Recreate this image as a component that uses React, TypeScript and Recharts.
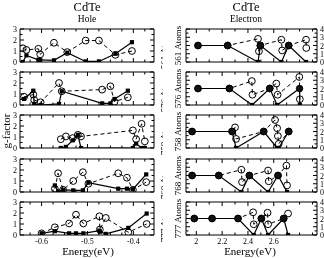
import React from "react";
import { LineChart, Line, XAxis, YAxis } from "recharts";

// ---------------- Hole (left column) ----------------
const holeE561 = [-0.641, -0.633, -0.607, -0.603, -0.573, -0.544, -0.504, -0.475, -0.439, -0.403];
const holeSq561 = [0.0, 0.6, 0.2, 0.2, 0.15, 0.85, 0.05, 0.05, 0.75, 1.8];
const holeCi561 = [1.25, 1.1, 1.2, 0.7, 1.75, 0.9, 1.95, 1.95, 0.65, 1.0];

const holeE576 = [-0.638, -0.618, -0.616, -0.602, -0.562, -0.556, -0.468, -0.45, -0.441, -0.412];
const holeSq576 = [0.55, 1.3, 0.1, 0.0, 0.1, 1.25, 0.15, 0.15, 0.55, 1.3];
const holeCi576 = [0.75, 0.95, 0.45, 0.25, 2.0, 1.25, 1.4, 1.7, 0.3, 0.7];

const holeE758 = [-0.558, -0.547, -0.532, -0.521, -0.514, -0.401, -0.394, -0.382, -0.375];
const holeSq758 = [0.0, 0.1, 0.7, 1.2, 0.0, 0.0, 0.4, 0.0, 0.0];
const holeCi758 = [0.8, 1.05, 0.9, 1.2, 1.05, 1.6, 0.8, 2.2, 0.6];

const holeE768 = [-0.571, -0.564, -0.553, -0.531, -0.51, -0.498, -0.433, -0.414, -0.401, -0.372];
const holeSq768 = [0.6, 0.05, 0.2, 0.15, 0.15, 0.85, 0.3, 0.3, 0.25, 1.6];
const holeCi768 = [0.3, 1.7, 0.2, 1.0, 1.8, 0.75, 1.7, 1.3, 0.2, 0.9];

const holeE777 = [-0.6, -0.571, -0.54, -0.525, -0.509, -0.474, -0.473, -0.46, -0.411, -0.371];
const holeSq777 = [0.15, 0.35, 0.15, 0.15, 0.15, 0.4, 0.3, 0.1, 0.65, 1.95];
const holeCi777 = [0.15, 0.7, 1.05, 1.85, 1.05, 1.7, 0.5, 1.55, 0.25, 1.0];

// ---------------- Electron (right column) ----------------
const elecSolidE561 = [2.013, 2.243, 2.478, 2.496, 2.659, 2.716, 2.85];
const elecSolid561 = [2, 2, 0, 2, 0, 2, 0];
const elecDashE561 = [2.013, 2.243, 2.478, 2.485, 2.496, 2.659, 2.665, 2.716, 2.85, 2.852];
const elecDash561 = [2, 2, 2.8, 1.3, 2, 2.7, 1.4, 2, 2.7, 1.7];

const elecSolidE576 = [2.013, 2.256, 2.432, 2.569, 2.626, 2.8, 2.802];
const elecSolid576 = [2, 2, 0, 2, 0, 2, 0];
const elecDashE576 = [2.013, 2.256, 2.43, 2.435, 2.569, 2.62, 2.63, 2.798, 2.802];
const elecDash576 = [2, 2, 2.9, 1.25, 2, 2.6, 1.25, 3.4, 0.7];

const elecSolidE758 = [1.967, 2.277, 2.308, 2.522, 2.626, 2.638, 2.716];
const elecSolid758 = [2, 2, 0, 2, 0, 0, 2];
const elecDashE758 = [1.967, 2.277, 2.3, 2.308, 2.522, 2.61, 2.626, 2.632, 2.638, 2.716];
const elecDash758 = [2, 2, 2.5, 1.1, 2, 3.4, 2.4, 1.45, 0.5, 2];

const elecSolidE768 = [1.967, 2.174, 2.349, 2.411, 2.556, 2.633, 2.703];
const elecSolid768 = [2, 2, 0, 2, 0, 2, 0];
const elecDashE768 = [1.967, 2.174, 2.349, 2.354, 2.411, 2.556, 2.561, 2.633, 2.698, 2.703];
const elecDash768 = [2, 2, 2.7, 1.2, 2, 2.6, 1.3, 2, 3.2, 0.8];

const elecSolidE777 = [1.984, 2.122, 2.323, 2.445, 2.504, 2.556, 2.677, 2.711];
const elecSolid777 = [2, 2, 2, 0, 2, 0, 2, 0];
const elecDashE777 = [1.984, 2.122, 2.323, 2.44, 2.445, 2.504, 2.552, 2.556, 2.677, 2.711];
const elecDash777 = [2, 2, 2, 2.75, 1.3, 2, 2.7, 1.3, 2, 2.6];

// ---------------- Axes / labels ----------------
const atomLabels = ["561 Atoms", "576 Atoms", "758 Atoms", "768 Atoms", "777 Atoms"];
const holeXDomain = [-0.647, -0.355];
const holeXTicks = [-0.625, -0.6, -0.575, -0.55, -0.525, -0.5, -0.475, -0.45, -0.425, -0.4, -0.375];
const holeXMajor = [-0.6, -0.5, -0.4];
const holeXLabels = ["-0.6", "-0.5", "-0.4"];
const elecXDomain = [1.92, 2.935];
const elecXTicks = [2.0, 2.1, 2.2, 2.3, 2.4, 2.5, 2.6, 2.7, 2.8, 2.9];
const elecXMajor = [2.0, 2.2, 2.4, 2.6];
const elecXLabels = ["2", "2.2", "2.4", "2.6"];
const holeYTicks = [0, 0.5, 1, 1.5, 2, 2.5, 3];
const holeYLabels = ["0", "1", "2", "3"];
const elecYTicks = [0, 0.5, 1, 1.5, 2, 2.5, 3, 3.5, 4];
const elecYLabels = ["0", "1", "2", "3", "4"];

const holeSets = [
  [holeE561, holeSq561, holeCi561],
  [holeE576, holeSq576, holeCi576],
  [holeE758, holeSq758, holeCi758],
  [holeE768, holeSq768, holeCi768],
  [holeE777, holeSq777, holeCi777],
];
const elecSets = [
  [elecSolidE561, elecSolid561, elecDashE561, elecDash561],
  [elecSolidE576, elecSolid576, elecDashE576, elecDash576],
  [elecSolidE758, elecSolid758, elecDashE758, elecDash758],
  [elecSolidE768, elecSolid768, elecDashE768, elecDash768],
  [elecSolidE777, elecSolid777, elecDashE777, elecDash777],
];

const FONT = "'Liberation Serif', 'DejaVu Serif', serif";
const INK = "#000";
const near = (a: number, b: number) => Math.abs(a - b) < 1e-6;
const zip = (xs: number[], ys: number[]) => xs.map((x, i) => ({ x, y: ys[i] }));

// layout of frames (px)
const LEFT_X0 = 20, LEFT_W = 134;
const RIGHT_X0 = 186, RIGHT_W = 131;
const PANEL_BOTTOMS = [62, 105, 148, 192, 235];
const PANEL_H = 33;

const openCircle = (p: any) => (
  <circle key={`c${p.index}`} cx={p.cx} cy={p.cy} r={3.4} fill="none" stroke={INK} strokeWidth={1} />
);
const filledSquare = (p: any) => (
  <rect key={`s${p.index}`} x={p.cx - 2.1} y={p.cy - 2.1} width={4.2} height={4.2} fill={INK} />
);
const elecSolidDot = (p: any) =>
  p.payload && p.payload.y >= 1 ? (
    <circle key={`e${p.index}`} cx={p.cx} cy={p.cy} r={3.2} fill="#111" stroke={INK} strokeWidth={1} />
  ) : (
    filledSquare(p)
  );

function Panel(props: any) {
  const { x0, w, bottom, xDomain, xTicks, xMajor, xLabels, yDomain, yTicks, yLabels, ySide, showX, solid, dashed, solidDot } = props;
  const ml = 30, mr = 30, mt = 4, mb = 16;
  const top = bottom - PANEL_H;
  const bottomTick = (p: any) => {
    const v = p.payload.value;
    const mi = xMajor.findIndex((m: number) => near(m, v));
    return (
      <g key={`bt${v}`}>
        <line x1={p.x} x2={p.x} y1={p.y} y2={p.y - (mi >= 0 ? 4 : 2.5)} stroke={INK} strokeWidth={1} />
        {showX && mi >= 0 ? (
          <text x={p.x} y={p.y + 8.5} textAnchor="middle" fontSize={8} fontFamily={FONT} style={{ fill: INK }}>
            {xLabels[mi]}
          </text>
        ) : null}
      </g>
    );
  };
  const topTick = (p: any) => {
    const v = p.payload.value;
    const major = xMajor.some((m: number) => near(m, v));
    return <line key={`tt${v}`} x1={p.x} x2={p.x} y1={p.y} y2={p.y + (major ? 4 : 2.5)} stroke={INK} strokeWidth={1} />;
  };
  const yTick = (side: string, labelled: boolean) => (p: any) => {
    const v = p.payload.value;
    const major = Math.abs(v - Math.round(v)) < 1e-6;
    const dir = side === "left" ? 1 : -1;
    return (
      <g key={`yt${side}${v}`}>
        <line x1={p.x} x2={p.x + dir * (major ? 4 : 2.5)} y1={p.y} y2={p.y} stroke={INK} strokeWidth={1} />
        {labelled && major ? (
          <text
            x={Math.round(p.x - dir * 3)}
            y={p.y + 3}
            textAnchor={side === "left" ? "end" : "start"}
            fontSize={8}
            fontFamily={FONT}
            style={{ fill: INK }}
          >
            {yLabels[Math.round(v)]}
          </text>
        ) : null}
      </g>
    );
  };
  const axisCommon = {
    type: "number" as const,
    interval: 0 as const,
    tickSize: 0,
    tickMargin: 0,
    tickLine: false,
    axisLine: { stroke: INK, strokeWidth: 1 },
    allowDataOverflow: true,
  };
  return (
    <div style={{ position: "absolute", left: x0 - ml, top: top - mt }}>
      <LineChart
        width={w + ml + mr}
        height={PANEL_H + mt + mb}
        margin={{ top: mt - 1, right: mr - 1, bottom: mb - 1, left: ml - 1 }}
      >
        <XAxis {...axisCommon} xAxisId="b" dataKey="x" domain={xDomain} ticks={xTicks} height={1} tick={bottomTick} />
        <XAxis {...axisCommon} xAxisId="t" orientation="top" dataKey="x" domain={xDomain} ticks={xTicks} height={1} tick={topTick} />
        <YAxis {...axisCommon} yAxisId="l" domain={yDomain} ticks={yTicks} width={1} tick={yTick("left", ySide === "left")} />
        <YAxis {...axisCommon} yAxisId="r" orientation="right" domain={yDomain} ticks={yTicks} width={1} tick={yTick("right", ySide === "right")} />
        <Line
          xAxisId="b"
          yAxisId="l"
          data={dashed}
          dataKey="y"
          stroke={INK}
          strokeWidth={1}
          strokeDasharray="4 3"
          dot={openCircle}
          activeDot={false}
          isAnimationActive={false}
        />
        <Line
          xAxisId="b"
          yAxisId="l"
          data={solid}
          dataKey="y"
          stroke={INK}
          strokeWidth={1.2}
          dot={solidDot}
          activeDot={false}
          isAnimationActive={false}
        />
      </LineChart>
    </div>
  );
}

export default function App() {
  return (
    <div
      style={{
        position: "absolute",
        left: 0,
        top: 0,
        width: 324,
        height: 258,
        background: "#fff",
        overflow: "hidden",
        opacity: 0.999,
        willChange: "transform",
      }}
    >
      {holeSets.map((s, i) => (
        <Panel
          key={`h${i}`}
          x0={LEFT_X0}
          w={LEFT_W}
          bottom={PANEL_BOTTOMS[i]}
          xDomain={holeXDomain}
          xTicks={holeXTicks}
          xMajor={holeXMajor}
          xLabels={holeXLabels}
          yDomain={[0, 3]}
          yTicks={holeYTicks}
          yLabels={holeYLabels}
          ySide="left"
          showX={i === 4}
          solid={zip(s[0], s[1])}
          dashed={zip(s[0], s[2])}
          solidDot={filledSquare}
        />
      ))}
      <svg width={324} height={258} style={{ position: "absolute", left: 0, top: 0 }}>
        <defs>
          <clipPath id="leftclip">
            <rect x={0} y={0} width={163} height={258} />
          </clipPath>
        </defs>
        <g clipPath="url(#leftclip)">
          {atomLabels.map((t, i) => {
            const cy = PANEL_BOTTOMS[i] - PANEL_H / 2 + 4;
            return (
              <text key={`la${i}`} x={0} y={0} transform={`translate(167,${cy}) rotate(-90)`} textAnchor="middle" fontSize={9} fontFamily={FONT} fill={INK}>
                {t}
              </text>
            );
          })}
        </g>
        <rect x={163} y={0} width={161} height={258} fill="#fff" />
        <text x={87} y={11} textAnchor="middle" fontSize={12.5} fontFamily={FONT} fill={INK}>CdTe</text>
        <text x={87} y={22} textAnchor="middle" fontSize={9.5} fontFamily={FONT} fill={INK}>Hole</text>
        <text x={246} y={11} textAnchor="middle" fontSize={12.5} fontFamily={FONT} fill={INK}>CdTe</text>
        <text x={246} y={22} textAnchor="middle" fontSize={9.5} fontFamily={FONT} fill={INK}>Electron</text>
        <text x={0} y={0} transform="translate(10,131) rotate(-90)" textAnchor="middle" fontSize={11} fontFamily={FONT} fill={INK}>g-factor</text>
        <text x={88} y={255} textAnchor="middle" fontSize={11} fontFamily={FONT} fill={INK}>Energy(eV)</text>
        <text x={250} y={255} textAnchor="middle" fontSize={11} fontFamily={FONT} fill={INK}>Energy(eV)</text>
        {atomLabels.map((t, i) => (
          <text key={`ra${i}`} x={0} y={0} transform={`translate(181,${PANEL_BOTTOMS[i] - PANEL_H / 2}) rotate(-90)`} textAnchor="middle" fontSize={9} fontFamily={FONT} fill={INK}>
            {t}
          </text>
        ))}
      </svg>
      {elecSets.map((s, i) => (
        <Panel
          key={`e${i}`}
          x0={RIGHT_X0}
          w={RIGHT_W}
          bottom={PANEL_BOTTOMS[i]}
          xDomain={elecXDomain}
          xTicks={elecXTicks}
          xMajor={elecXMajor}
          xLabels={elecXLabels}
          yDomain={[0, 4]}
          yTicks={elecYTicks}
          yLabels={elecYLabels}
          ySide="right"
          showX={i === 4}
          solid={zip(s[0], s[1])}
          dashed={zip(s[2], s[3])}
          solidDot={elecSolidDot}
        />
      ))}
    </div>
  );
}
